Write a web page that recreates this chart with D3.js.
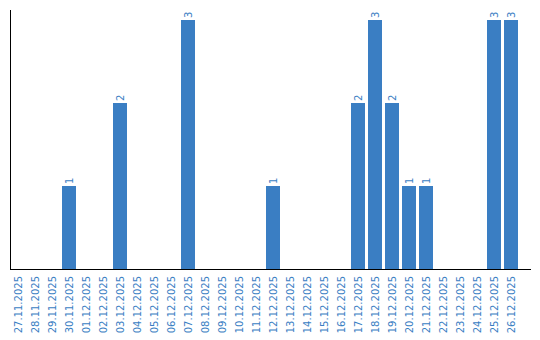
<!DOCTYPE html>
<html><head><meta charset="utf-8">
<script src="https://cdn.jsdelivr.net/npm/d3@7"></script>
<style>body{margin:0;background:#fff}svg{display:block}</style>
</head><body>
<script>
const categories = ["27.11.2025","28.11.2025","29.11.2025","30.11.2025","01.12.2025","02.12.2025","03.12.2025","04.12.2025","05.12.2025","06.12.2025","07.12.2025","08.12.2025","09.12.2025","10.12.2025","11.12.2025","12.12.2025","13.12.2025","14.12.2025","15.12.2025","16.12.2025","17.12.2025","18.12.2025","19.12.2025","20.12.2025","21.12.2025","22.12.2025","23.12.2025","24.12.2025","25.12.2025","26.12.2025"];
const values = [0,0,0,1,0,0,2,0,0,0,3,0,0,0,0,1,0,0,0,0,2,3,2,1,1,0,0,0,3,3];
const yMax = 3;
const color = "#3a7ec3";

const W = 540, H = 340;
const svg = d3.select("body").append("svg").attr("width", W).attr("height", H);
const x = d3.scaleBand().domain(categories).range([9.5, 519.5]).paddingInner(0.18).paddingOuter(0.09);
const y = d3.scaleLinear().domain([0, yMax]).range([269, 20]);

const data = categories.map((c, i) => ({c, v: values[i]}));

svg.selectAll("rect.bar").data(data.filter(d => d.v > 0)).enter().append("rect")
  .attr("x", d => Math.round(x(d.c))).attr("width", Math.round(x.bandwidth()))
  .attr("y", d => y(d.v)).attr("height", d => y(0) - y(d.v))
  .attr("fill", color);

svg.selectAll("text.val").data(data.filter(d => d.v > 0)).enter().append("text")
  .attr("transform", d => `translate(${Math.round(x(d.c)) + 7 + 3.5},${y(d.v) - 2}) rotate(-90)`)
  .attr("text-anchor", "start")
  .attr("font-family", "DejaVu Sans, Verdana, sans-serif").attr("font-size", "10px")
  .attr("fill", color).text(d => d.v);

svg.selectAll("text.tick").data(data).enter().append("text")
  .attr("transform", d => `translate(${Math.round(x(d.c)) + 7 + 3.5},${y(0) + 7}) rotate(-90)`)
  .attr("text-anchor", "end")
  .attr("font-family", "DejaVu Sans, Verdana, sans-serif").attr("font-size", "10px")
  .attr("fill", color).text(d => d.c);

svg.append("line").attr("x1", 10.5).attr("x2", 10.5).attr("y1", 10).attr("y2", y(0)).attr("stroke", "#000");
svg.append("line").attr("x1", 10).attr("x2", 531).attr("y1", y(0) + 0.5).attr("y2", y(0) + 0.5).attr("stroke", "#000");
</script>
</body></html>
